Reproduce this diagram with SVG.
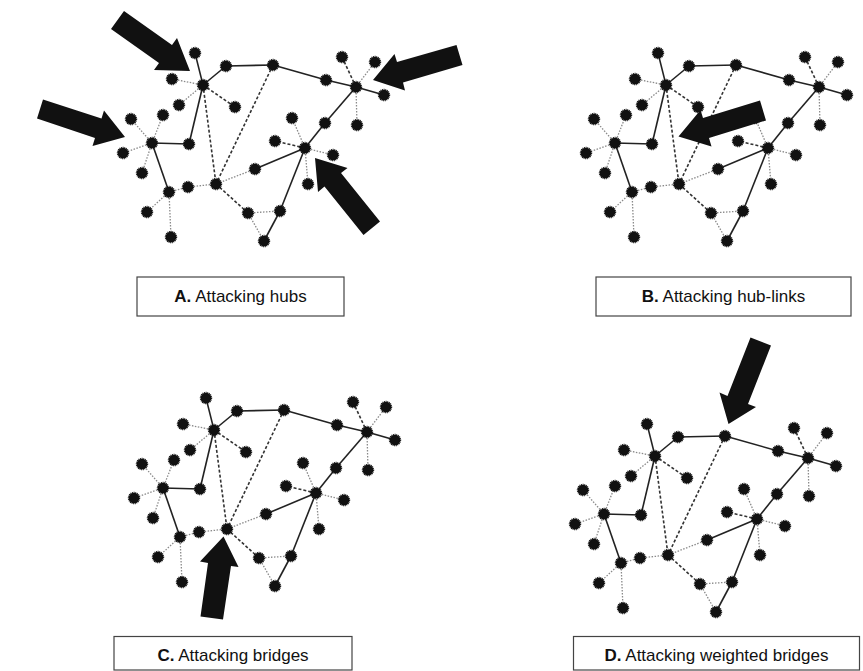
<svg xmlns="http://www.w3.org/2000/svg" width="863" height="671" viewBox="0 0 863 671">
<style>
.edges line{fill:none}
.s{stroke:#222;stroke-width:1.6}
.d{stroke:#333;stroke-width:1.6;stroke-dasharray:3 2}
.t{stroke:#8a8a8a;stroke-width:1.3;stroke-dasharray:1.5 1.5}
.node circle{fill:#111;stroke:#111;stroke-width:1.8;stroke-dasharray:0.9 0.7}
.arrow{fill:#111}
.box{fill:#fff;stroke:#444;stroke-width:1.2}
.lbl{font-family:"Liberation Sans",Arial,sans-serif;font-size:17px;fill:#111;text-anchor:middle}
</style>
<rect width="863" height="671" fill="#fff"/>

<!-- Panel A -->
<g id="panelA">
<g id="edges-a" class="edges">
<line class="s" x1="203" y1="85" x2="195" y2="53"/><line class="s" x1="203" y1="85" x2="226" y2="66"/><line class="s" x1="226" y1="66" x2="273" y2="65"/><line class="s" x1="273" y1="65" x2="326" y2="80"/><line class="s" x1="326" y1="80" x2="356" y2="87"/><line class="s" x1="356" y1="87" x2="384" y2="95"/><line class="s" x1="356" y1="87" x2="325" y2="123"/><line class="s" x1="325" y1="123" x2="305" y2="148"/><line class="s" x1="305" y1="148" x2="255" y2="169"/><line class="s" x1="305" y1="148" x2="280" y2="211"/><line class="s" x1="280" y1="211" x2="264" y2="241"/><line class="s" x1="169" y1="192" x2="152" y2="143"/><line class="s" x1="152" y1="143" x2="189" y2="144"/><line class="s" x1="189" y1="144" x2="203" y2="85"/>
<line class="d" x1="203" y1="85" x2="235" y2="107"/><line class="d" x1="203" y1="85" x2="216" y2="184"/><line class="d" x1="273" y1="65" x2="216" y2="184"/><line class="d" x1="356" y1="87" x2="342" y2="57"/><line class="d" x1="305" y1="148" x2="275" y2="141"/><line class="d" x1="216" y1="184" x2="248" y2="213"/>
<line class="t" x1="203" y1="85" x2="172" y2="79"/><line class="t" x1="203" y1="85" x2="179" y2="105"/><line class="t" x1="356" y1="87" x2="375" y2="62"/><line class="t" x1="356" y1="87" x2="357" y2="125"/><line class="t" x1="305" y1="148" x2="292" y2="118"/><line class="t" x1="305" y1="148" x2="333" y2="155"/><line class="t" x1="305" y1="148" x2="308" y2="184"/><line class="t" x1="255" y1="169" x2="216" y2="184"/><line class="t" x1="216" y1="184" x2="188" y2="187"/><line class="t" x1="188" y1="187" x2="169" y2="192"/><line class="t" x1="169" y1="192" x2="147" y2="212"/><line class="t" x1="169" y1="192" x2="171" y2="237"/><line class="t" x1="152" y1="143" x2="131" y2="119"/><line class="t" x1="152" y1="143" x2="163" y2="115"/><line class="t" x1="152" y1="143" x2="123" y2="153"/><line class="t" x1="152" y1="143" x2="142" y2="173"/><line class="t" x1="248" y1="213" x2="280" y2="211"/><line class="t" x1="248" y1="213" x2="264" y2="241"/>
</g>
<g id="a-n1" class="node"><circle cx="203" cy="85" r="5.3"/></g><g id="a-n2" class="node"><circle cx="195" cy="53" r="5.3"/></g><g id="a-n3" class="node"><circle cx="172" cy="79" r="5.3"/></g><g id="a-n4" class="node"><circle cx="179" cy="105" r="5.3"/></g><g id="a-n5" class="node"><circle cx="235" cy="107" r="5.3"/></g><g id="a-n6" class="node"><circle cx="226" cy="66" r="5.3"/></g><g id="a-n7" class="node"><circle cx="273" cy="65" r="5.3"/></g><g id="a-n8" class="node"><circle cx="326" cy="80" r="5.3"/></g><g id="a-n9" class="node"><circle cx="356" cy="87" r="5.3"/></g><g id="a-n10" class="node"><circle cx="342" cy="57" r="5.3"/></g><g id="a-n11" class="node"><circle cx="375" cy="62" r="5.3"/></g><g id="a-n12" class="node"><circle cx="384" cy="95" r="5.3"/></g><g id="a-n13" class="node"><circle cx="357" cy="125" r="5.3"/></g><g id="a-n14" class="node"><circle cx="325" cy="123" r="5.3"/></g><g id="a-n15" class="node"><circle cx="305" cy="148" r="5.3"/></g><g id="a-n16" class="node"><circle cx="292" cy="118" r="5.3"/></g><g id="a-n17" class="node"><circle cx="275" cy="141" r="5.3"/></g><g id="a-n18" class="node"><circle cx="333" cy="155" r="5.3"/></g><g id="a-n19" class="node"><circle cx="308" cy="184" r="5.3"/></g><g id="a-n20" class="node"><circle cx="255" cy="169" r="5.3"/></g><g id="a-n21" class="node"><circle cx="216" cy="184" r="5.3"/></g><g id="a-n22" class="node"><circle cx="188" cy="187" r="5.3"/></g><g id="a-n23" class="node"><circle cx="169" cy="192" r="5.3"/></g><g id="a-n24" class="node"><circle cx="147" cy="212" r="5.3"/></g><g id="a-n25" class="node"><circle cx="171" cy="237" r="5.3"/></g><g id="a-n26" class="node"><circle cx="152" cy="143" r="5.3"/></g><g id="a-n27" class="node"><circle cx="131" cy="119" r="5.3"/></g><g id="a-n28" class="node"><circle cx="163" cy="115" r="5.3"/></g><g id="a-n29" class="node"><circle cx="123" cy="153" r="5.3"/></g><g id="a-n30" class="node"><circle cx="142" cy="173" r="5.3"/></g><g id="a-n31" class="node"><circle cx="189" cy="144" r="5.3"/></g><g id="a-n32" class="node"><circle cx="248" cy="213" r="5.3"/></g><g id="a-n33" class="node"><circle cx="280" cy="211" r="5.3"/></g><g id="a-n34" class="node"><circle cx="264" cy="241" r="5.3"/></g>
</g>

<!-- Panel B -->
<g id="panelB" transform="translate(463,0)">
<g id="edges-b" class="edges">
<line class="s" x1="203" y1="85" x2="195" y2="53"/><line class="s" x1="203" y1="85" x2="226" y2="66"/><line class="s" x1="226" y1="66" x2="273" y2="65"/><line class="s" x1="273" y1="65" x2="326" y2="80"/><line class="s" x1="326" y1="80" x2="356" y2="87"/><line class="s" x1="356" y1="87" x2="384" y2="95"/><line class="s" x1="356" y1="87" x2="325" y2="123"/><line class="s" x1="325" y1="123" x2="305" y2="148"/><line class="s" x1="305" y1="148" x2="255" y2="169"/><line class="s" x1="305" y1="148" x2="280" y2="211"/><line class="s" x1="280" y1="211" x2="264" y2="241"/><line class="s" x1="169" y1="192" x2="152" y2="143"/><line class="s" x1="152" y1="143" x2="189" y2="144"/><line class="s" x1="189" y1="144" x2="203" y2="85"/>
<line class="d" x1="203" y1="85" x2="235" y2="107"/><line class="d" x1="203" y1="85" x2="216" y2="184"/><line class="d" x1="273" y1="65" x2="216" y2="184"/><line class="d" x1="356" y1="87" x2="342" y2="57"/><line class="d" x1="305" y1="148" x2="275" y2="141"/><line class="d" x1="216" y1="184" x2="248" y2="213"/>
<line class="t" x1="203" y1="85" x2="172" y2="79"/><line class="t" x1="203" y1="85" x2="179" y2="105"/><line class="t" x1="356" y1="87" x2="375" y2="62"/><line class="t" x1="356" y1="87" x2="357" y2="125"/><line class="t" x1="305" y1="148" x2="292" y2="118"/><line class="t" x1="305" y1="148" x2="333" y2="155"/><line class="t" x1="305" y1="148" x2="308" y2="184"/><line class="t" x1="255" y1="169" x2="216" y2="184"/><line class="t" x1="216" y1="184" x2="188" y2="187"/><line class="t" x1="188" y1="187" x2="169" y2="192"/><line class="t" x1="169" y1="192" x2="147" y2="212"/><line class="t" x1="169" y1="192" x2="171" y2="237"/><line class="t" x1="152" y1="143" x2="131" y2="119"/><line class="t" x1="152" y1="143" x2="163" y2="115"/><line class="t" x1="152" y1="143" x2="123" y2="153"/><line class="t" x1="152" y1="143" x2="142" y2="173"/><line class="t" x1="248" y1="213" x2="280" y2="211"/><line class="t" x1="248" y1="213" x2="264" y2="241"/>
</g>
<g id="b-n1" class="node"><circle cx="203" cy="85" r="5.3"/></g><g id="b-n2" class="node"><circle cx="195" cy="53" r="5.3"/></g><g id="b-n3" class="node"><circle cx="172" cy="79" r="5.3"/></g><g id="b-n4" class="node"><circle cx="179" cy="105" r="5.3"/></g><g id="b-n5" class="node"><circle cx="235" cy="107" r="5.3"/></g><g id="b-n6" class="node"><circle cx="226" cy="66" r="5.3"/></g><g id="b-n7" class="node"><circle cx="273" cy="65" r="5.3"/></g><g id="b-n8" class="node"><circle cx="326" cy="80" r="5.3"/></g><g id="b-n9" class="node"><circle cx="356" cy="87" r="5.3"/></g><g id="b-n10" class="node"><circle cx="342" cy="57" r="5.3"/></g><g id="b-n11" class="node"><circle cx="375" cy="62" r="5.3"/></g><g id="b-n12" class="node"><circle cx="384" cy="95" r="5.3"/></g><g id="b-n13" class="node"><circle cx="357" cy="125" r="5.3"/></g><g id="b-n14" class="node"><circle cx="325" cy="123" r="5.3"/></g><g id="b-n15" class="node"><circle cx="305" cy="148" r="5.3"/></g><g id="b-n16" class="node"><circle cx="292" cy="118" r="5.3"/></g><g id="b-n17" class="node"><circle cx="275" cy="141" r="5.3"/></g><g id="b-n18" class="node"><circle cx="333" cy="155" r="5.3"/></g><g id="b-n19" class="node"><circle cx="308" cy="184" r="5.3"/></g><g id="b-n20" class="node"><circle cx="255" cy="169" r="5.3"/></g><g id="b-n21" class="node"><circle cx="216" cy="184" r="5.3"/></g><g id="b-n22" class="node"><circle cx="188" cy="187" r="5.3"/></g><g id="b-n23" class="node"><circle cx="169" cy="192" r="5.3"/></g><g id="b-n24" class="node"><circle cx="147" cy="212" r="5.3"/></g><g id="b-n25" class="node"><circle cx="171" cy="237" r="5.3"/></g><g id="b-n26" class="node"><circle cx="152" cy="143" r="5.3"/></g><g id="b-n27" class="node"><circle cx="131" cy="119" r="5.3"/></g><g id="b-n28" class="node"><circle cx="163" cy="115" r="5.3"/></g><g id="b-n29" class="node"><circle cx="123" cy="153" r="5.3"/></g><g id="b-n30" class="node"><circle cx="142" cy="173" r="5.3"/></g><g id="b-n31" class="node"><circle cx="189" cy="144" r="5.3"/></g><g id="b-n32" class="node"><circle cx="248" cy="213" r="5.3"/></g><g id="b-n33" class="node"><circle cx="280" cy="211" r="5.3"/></g><g id="b-n34" class="node"><circle cx="264" cy="241" r="5.3"/></g>
</g>

<!-- Panel C -->
<g id="panelC" transform="translate(11,345)">
<g id="edges-c" class="edges">
<line class="s" x1="203" y1="85" x2="195" y2="53"/><line class="s" x1="203" y1="85" x2="226" y2="66"/><line class="s" x1="226" y1="66" x2="273" y2="65"/><line class="s" x1="273" y1="65" x2="326" y2="80"/><line class="s" x1="326" y1="80" x2="356" y2="87"/><line class="s" x1="356" y1="87" x2="384" y2="95"/><line class="s" x1="356" y1="87" x2="325" y2="123"/><line class="s" x1="325" y1="123" x2="305" y2="148"/><line class="s" x1="305" y1="148" x2="255" y2="169"/><line class="s" x1="305" y1="148" x2="280" y2="211"/><line class="s" x1="280" y1="211" x2="264" y2="241"/><line class="s" x1="169" y1="192" x2="152" y2="143"/><line class="s" x1="152" y1="143" x2="189" y2="144"/><line class="s" x1="189" y1="144" x2="203" y2="85"/>
<line class="d" x1="203" y1="85" x2="235" y2="107"/><line class="d" x1="203" y1="85" x2="216" y2="184"/><line class="d" x1="273" y1="65" x2="216" y2="184"/><line class="d" x1="356" y1="87" x2="342" y2="57"/><line class="d" x1="305" y1="148" x2="275" y2="141"/><line class="d" x1="216" y1="184" x2="248" y2="213"/>
<line class="t" x1="203" y1="85" x2="172" y2="79"/><line class="t" x1="203" y1="85" x2="179" y2="105"/><line class="t" x1="356" y1="87" x2="375" y2="62"/><line class="t" x1="356" y1="87" x2="357" y2="125"/><line class="t" x1="305" y1="148" x2="292" y2="118"/><line class="t" x1="305" y1="148" x2="333" y2="155"/><line class="t" x1="305" y1="148" x2="308" y2="184"/><line class="t" x1="255" y1="169" x2="216" y2="184"/><line class="t" x1="216" y1="184" x2="188" y2="187"/><line class="t" x1="188" y1="187" x2="169" y2="192"/><line class="t" x1="169" y1="192" x2="147" y2="212"/><line class="t" x1="169" y1="192" x2="171" y2="237"/><line class="t" x1="152" y1="143" x2="131" y2="119"/><line class="t" x1="152" y1="143" x2="163" y2="115"/><line class="t" x1="152" y1="143" x2="123" y2="153"/><line class="t" x1="152" y1="143" x2="142" y2="173"/><line class="t" x1="248" y1="213" x2="280" y2="211"/><line class="t" x1="248" y1="213" x2="264" y2="241"/>
</g>
<g id="c-n1" class="node"><circle cx="203" cy="85" r="5.3"/></g><g id="c-n2" class="node"><circle cx="195" cy="53" r="5.3"/></g><g id="c-n3" class="node"><circle cx="172" cy="79" r="5.3"/></g><g id="c-n4" class="node"><circle cx="179" cy="105" r="5.3"/></g><g id="c-n5" class="node"><circle cx="235" cy="107" r="5.3"/></g><g id="c-n6" class="node"><circle cx="226" cy="66" r="5.3"/></g><g id="c-n7" class="node"><circle cx="273" cy="65" r="5.3"/></g><g id="c-n8" class="node"><circle cx="326" cy="80" r="5.3"/></g><g id="c-n9" class="node"><circle cx="356" cy="87" r="5.3"/></g><g id="c-n10" class="node"><circle cx="342" cy="57" r="5.3"/></g><g id="c-n11" class="node"><circle cx="375" cy="62" r="5.3"/></g><g id="c-n12" class="node"><circle cx="384" cy="95" r="5.3"/></g><g id="c-n13" class="node"><circle cx="357" cy="125" r="5.3"/></g><g id="c-n14" class="node"><circle cx="325" cy="123" r="5.3"/></g><g id="c-n15" class="node"><circle cx="305" cy="148" r="5.3"/></g><g id="c-n16" class="node"><circle cx="292" cy="118" r="5.3"/></g><g id="c-n17" class="node"><circle cx="275" cy="141" r="5.3"/></g><g id="c-n18" class="node"><circle cx="333" cy="155" r="5.3"/></g><g id="c-n19" class="node"><circle cx="308" cy="184" r="5.3"/></g><g id="c-n20" class="node"><circle cx="255" cy="169" r="5.3"/></g><g id="c-n21" class="node"><circle cx="216" cy="184" r="5.3"/></g><g id="c-n22" class="node"><circle cx="188" cy="187" r="5.3"/></g><g id="c-n23" class="node"><circle cx="169" cy="192" r="5.3"/></g><g id="c-n24" class="node"><circle cx="147" cy="212" r="5.3"/></g><g id="c-n25" class="node"><circle cx="171" cy="237" r="5.3"/></g><g id="c-n26" class="node"><circle cx="152" cy="143" r="5.3"/></g><g id="c-n27" class="node"><circle cx="131" cy="119" r="5.3"/></g><g id="c-n28" class="node"><circle cx="163" cy="115" r="5.3"/></g><g id="c-n29" class="node"><circle cx="123" cy="153" r="5.3"/></g><g id="c-n30" class="node"><circle cx="142" cy="173" r="5.3"/></g><g id="c-n31" class="node"><circle cx="189" cy="144" r="5.3"/></g><g id="c-n32" class="node"><circle cx="248" cy="213" r="5.3"/></g><g id="c-n33" class="node"><circle cx="280" cy="211" r="5.3"/></g><g id="c-n34" class="node"><circle cx="264" cy="241" r="5.3"/></g>
</g>

<!-- Panel D -->
<g id="panelD" transform="translate(452,371)">
<g id="edges-d" class="edges">
<line class="s" x1="203" y1="85" x2="195" y2="53"/><line class="s" x1="203" y1="85" x2="226" y2="66"/><line class="s" x1="226" y1="66" x2="273" y2="65"/><line class="s" x1="273" y1="65" x2="326" y2="80"/><line class="s" x1="326" y1="80" x2="356" y2="87"/><line class="s" x1="356" y1="87" x2="384" y2="95"/><line class="s" x1="356" y1="87" x2="325" y2="123"/><line class="s" x1="325" y1="123" x2="305" y2="148"/><line class="s" x1="305" y1="148" x2="255" y2="169"/><line class="s" x1="305" y1="148" x2="280" y2="211"/><line class="s" x1="280" y1="211" x2="264" y2="241"/><line class="s" x1="169" y1="192" x2="152" y2="143"/><line class="s" x1="152" y1="143" x2="189" y2="144"/><line class="s" x1="189" y1="144" x2="203" y2="85"/>
<line class="d" x1="203" y1="85" x2="235" y2="107"/><line class="d" x1="203" y1="85" x2="216" y2="184"/><line class="d" x1="273" y1="65" x2="216" y2="184"/><line class="d" x1="356" y1="87" x2="342" y2="57"/><line class="d" x1="305" y1="148" x2="275" y2="141"/><line class="d" x1="216" y1="184" x2="248" y2="213"/>
<line class="t" x1="203" y1="85" x2="172" y2="79"/><line class="t" x1="203" y1="85" x2="179" y2="105"/><line class="t" x1="356" y1="87" x2="375" y2="62"/><line class="t" x1="356" y1="87" x2="357" y2="125"/><line class="t" x1="305" y1="148" x2="292" y2="118"/><line class="t" x1="305" y1="148" x2="333" y2="155"/><line class="t" x1="305" y1="148" x2="308" y2="184"/><line class="t" x1="255" y1="169" x2="216" y2="184"/><line class="t" x1="216" y1="184" x2="188" y2="187"/><line class="t" x1="188" y1="187" x2="169" y2="192"/><line class="t" x1="169" y1="192" x2="147" y2="212"/><line class="t" x1="169" y1="192" x2="171" y2="237"/><line class="t" x1="152" y1="143" x2="131" y2="119"/><line class="t" x1="152" y1="143" x2="163" y2="115"/><line class="t" x1="152" y1="143" x2="123" y2="153"/><line class="t" x1="152" y1="143" x2="142" y2="173"/><line class="t" x1="248" y1="213" x2="280" y2="211"/><line class="t" x1="248" y1="213" x2="264" y2="241"/>
</g>
<g id="d-n1" class="node"><circle cx="203" cy="85" r="5.3"/></g><g id="d-n2" class="node"><circle cx="195" cy="53" r="5.3"/></g><g id="d-n3" class="node"><circle cx="172" cy="79" r="5.3"/></g><g id="d-n4" class="node"><circle cx="179" cy="105" r="5.3"/></g><g id="d-n5" class="node"><circle cx="235" cy="107" r="5.3"/></g><g id="d-n6" class="node"><circle cx="226" cy="66" r="5.3"/></g><g id="d-n7" class="node"><circle cx="273" cy="65" r="5.3"/></g><g id="d-n8" class="node"><circle cx="326" cy="80" r="5.3"/></g><g id="d-n9" class="node"><circle cx="356" cy="87" r="5.3"/></g><g id="d-n10" class="node"><circle cx="342" cy="57" r="5.3"/></g><g id="d-n11" class="node"><circle cx="375" cy="62" r="5.3"/></g><g id="d-n12" class="node"><circle cx="384" cy="95" r="5.3"/></g><g id="d-n13" class="node"><circle cx="357" cy="125" r="5.3"/></g><g id="d-n14" class="node"><circle cx="325" cy="123" r="5.3"/></g><g id="d-n15" class="node"><circle cx="305" cy="148" r="5.3"/></g><g id="d-n16" class="node"><circle cx="292" cy="118" r="5.3"/></g><g id="d-n17" class="node"><circle cx="275" cy="141" r="5.3"/></g><g id="d-n18" class="node"><circle cx="333" cy="155" r="5.3"/></g><g id="d-n19" class="node"><circle cx="308" cy="184" r="5.3"/></g><g id="d-n20" class="node"><circle cx="255" cy="169" r="5.3"/></g><g id="d-n21" class="node"><circle cx="216" cy="184" r="5.3"/></g><g id="d-n22" class="node"><circle cx="188" cy="187" r="5.3"/></g><g id="d-n23" class="node"><circle cx="169" cy="192" r="5.3"/></g><g id="d-n24" class="node"><circle cx="147" cy="212" r="5.3"/></g><g id="d-n25" class="node"><circle cx="171" cy="237" r="5.3"/></g><g id="d-n26" class="node"><circle cx="152" cy="143" r="5.3"/></g><g id="d-n27" class="node"><circle cx="131" cy="119" r="5.3"/></g><g id="d-n28" class="node"><circle cx="163" cy="115" r="5.3"/></g><g id="d-n29" class="node"><circle cx="123" cy="153" r="5.3"/></g><g id="d-n30" class="node"><circle cx="142" cy="173" r="5.3"/></g><g id="d-n31" class="node"><circle cx="189" cy="144" r="5.3"/></g><g id="d-n32" class="node"><circle cx="248" cy="213" r="5.3"/></g><g id="d-n33" class="node"><circle cx="280" cy="211" r="5.3"/></g><g id="d-n34" class="node"><circle cx="264" cy="241" r="5.3"/></g>
</g>

<!-- Attack arrows -->
<g id="arrows">
<polygon class="arrow" points="111,29 159,63 154,70 190,71 177,38 172,45 124,11"/>
<polygon class="arrow" points="37,118.5 95,138 92.5,146 125,137 104,110.5 101.5,118.5 43,99.5"/>
<polygon class="arrow" points="456.5,45 397,62 394.5,54 373,80 405,90.5 403,82.5 462.5,65"/>
<polygon class="arrow" points="380,221.5 341,173 347.5,168 315,158 318,192 324.5,186.5 363.5,235"/>
<polygon class="arrow" points="760,100.5 703,118 700.5,110 678.5,136.5 711.5,146.5 709,138 766,120.5"/>
<polygon class="arrow" points="223,619.5 231,566 238.5,567 223.5,536.5 200,561.5 208,563 200.5,616.5"/>
<polygon class="arrow" points="750.5,337.5 727.5,396 719.5,392.5 728.5,424 756,407 748,404 771,345.5"/>
</g>

<!-- Labels -->
<g id="label-a"><rect class="box" x="137" y="277" width="207" height="39"/><text class="lbl" x="240.5" y="302"><tspan font-weight="bold">A.</tspan> Attacking hubs</text></g>
<g id="label-b"><rect class="box" x="596" y="277" width="255" height="39"/><text class="lbl" x="723.5" y="302"><tspan font-weight="bold">B.</tspan> Attacking hub-links</text></g>
<g id="label-c"><rect class="box" x="114" y="636.5" width="238" height="33.5"/><text class="lbl" x="233" y="661"><tspan font-weight="bold">C.</tspan> Attacking bridges</text></g>
<g id="label-d"><rect class="box" x="573.5" y="636.5" width="286" height="33.5"/><text class="lbl" x="716.5" y="661"><tspan font-weight="bold">D.</tspan> Attacking weighted bridges</text></g>
</svg>
